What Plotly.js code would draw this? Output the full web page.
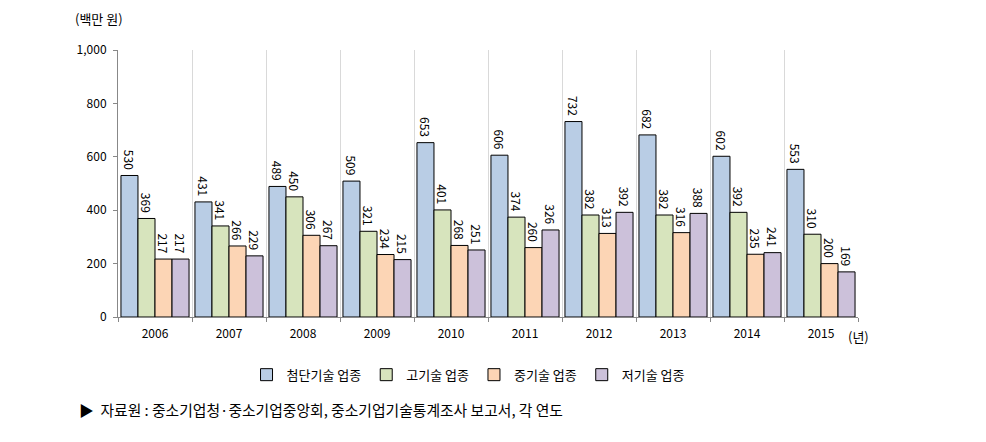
<!DOCTYPE html>
<html><head><meta charset="utf-8">
<script src="https://cdn.plot.ly/plotly-3.0.1.min.js"></script>
<style>body{margin:0;background:#fff}#c{width:986px;height:442px}</style>
</head><body><div id="c"></div>
<script>
const years = ['2006','2007','2008','2009','2010','2011','2012','2013','2014','2015'];
const seriesNames = ['첨단기술 업종','고기술 업종','중기술 업종','저기술 업종'];
const hiTech = [530,431,489,509,653,606,732,682,602,553];
const highTech = [369,341,450,321,401,374,382,382,392,310];
const midTech = [217,266,306,234,268,260,313,316,235,200];
const lowTech = [217,229,267,215,251,326,392,388,241,169];
const yTicks = [0,200,400,600,800,1000];
const yTickText = ['0','200','400','600','800','1,000'];

const colors = ['#B9CDE5','#D7E4BD','#FCD5B5','#CCC1DA'];
const all = [hiTech, highTech, midTech, lowTech];
const font = 'Noto Sans CJK KR, sans-serif';
const traces = all.map((v,i)=>({
  type:'bar', x:years, y:v, name:seriesNames[i],
  marker:{color:colors[i], line:{color:'#000', width:1}},
  text:v.map(s=>'\u00a0'+s+'\u00a0'), textposition:'outside', textangle:90, constraintext:'none',
  textfont:{family:font,size:12,color:'#000'}, cliponaxis:false
}));
const layout = {
  width:986, height:442,
  margin:{l:118,r:128,t:50,b:125},
  paper_bgcolor:'#fff', plot_bgcolor:'#fff',
  font:{family:font,size:12,color:'#000'},
  barmode:'group', bargap:0.08, bargroupgap:0,
  xaxis:{type:'category', tickson:'boundaries', ticks:'outside', ticklen:4, tickcolor:'#888',
    showgrid:true, gridcolor:'#d9d9d9', showline:true, linecolor:'#888', tickfont:{size:12}, ticklabelstandoff:6},
  yaxis:{range:[0,1000], tickvals:yTicks, ticktext:yTickText, ticks:'outside', ticklen:4,
    tickcolor:'#888', showline:true, linecolor:'#888', showgrid:false, zeroline:false, tickfont:{size:12}, ticklabelstandoff:4},
  showlegend:true,
  legend:{orientation:'h', x:0.473, xanchor:'center', y:-0.16, yanchor:'top', font:{size:13},
    itemwidth:30, tracegroupgap:0},
  annotations:[
    {text:'(백만 원)', xref:'paper', yref:'paper', x:-0.026, y:1.075, xanchor:'center', yanchor:'bottom', showarrow:false, font:{size:13}},
    {text:'(년)', xref:'paper', yref:'paper', x:1.0, y:0, xanchor:'center', yanchor:'top', yshift:-8, showarrow:false, font:{size:13}},
    {text:'▶  자료원 : 중소기업청·중소기업중앙회, 중소기업기술통계조사 보고서, 각 연도', xref:'paper', yref:'paper', x:-0.056, y:-0.3, xanchor:'left', yanchor:'top', showarrow:false, font:{size:14.8}}
  ]
};
Plotly.newPlot('c', traces, layout, {displayModeBar:false});
</script></body></html>
